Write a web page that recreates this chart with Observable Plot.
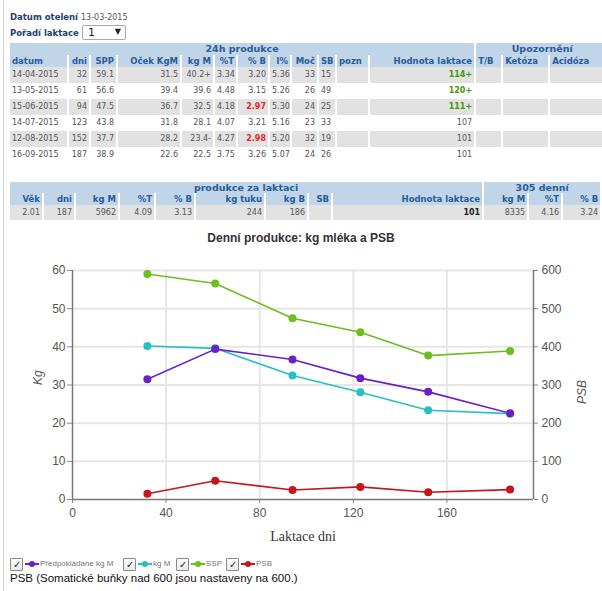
<!DOCTYPE html>
<html><head><meta charset="utf-8">
<script src="https://cdn.jsdelivr.net/npm/d3@7"></script>
<script src="https://cdn.jsdelivr.net/npm/@observablehq/plot@0.6"></script>
<style>
html,body{margin:0;padding:0;width:602px;height:591px;overflow:hidden;background:#fff;position:relative;}
#border{position:absolute;left:3px;top:0;width:1px;height:591px;background:#d4d4d4;}
.lbl{position:absolute;left:10px;font-family:"DejaVu Sans",Verdana,sans-serif;font-weight:bold;font-size:8.5px;color:#1f3d73;white-space:nowrap;}
.lbl span.v{font-weight:normal;color:#555;font-size:8px;}
#sel{position:absolute;left:82px;top:25px;width:44px;height:15px;border:1px solid #a9a9a9;border-radius:2px;background:#fff;box-sizing:border-box;font-family:"DejaVu Sans",sans-serif;font-size:11px;color:#222;}
#sel .n{position:absolute;left:5px;top:0px;}
#sel .a{position:absolute;right:4px;top:1px;font-size:8px;}
table{position:absolute;border-collapse:separate;border-spacing:0;table-layout:fixed;font-family:"DejaVu Sans",Verdana,sans-serif;font-size:8px;color:#555;}
td,th{padding:0 2px;overflow:hidden;white-space:nowrap;border-right:2px solid #fff;box-sizing:border-box;text-align:right;line-height:10px;}
th{background:#c0d5e8;color:#2a5c98;font-weight:bold;font-size:8.5px;}
th.big{font-size:9.5px;text-align:center;}
tr.g td{background:#e2e2e2;}
.red{color:#e8262b;font-weight:bold;}
.grn{color:#3f9a06;font-weight:bold;}
.blk{color:#222;font-weight:bold;}
#title{position:absolute;left:0;width:602px;top:231px;text-align:center;font-family:"Liberation Sans",Arial,sans-serif;font-weight:bold;font-size:12px;color:#333;}
#chart{position:absolute;left:0;top:255px;}
#legend{position:absolute;left:10px;top:558px;height:13px;font-family:"Liberation Sans",Arial,sans-serif;font-size:8px;color:#777;white-space:nowrap;}
.cb{position:absolute;top:0;width:11px;height:11px;border:1px solid #8a8a8a;border-radius:1px;background:linear-gradient(#fff,#e8e8e8);font-size:10px;line-height:11px;text-align:center;color:#222;}
.sym{position:absolute;top:5px;width:14px;height:1.5px;}
.sym i{position:absolute;left:4px;top:-2.5px;width:6px;height:6px;border-radius:50%;}
.lt{position:absolute;top:1px;}
#caption{position:absolute;left:10px;top:572px;font-family:"Liberation Sans",Arial,sans-serif;font-size:11.5px;color:#111;white-space:nowrap;}
</style></head>
<body>
<div id="border"></div>
<div class="lbl" style="top:12px">Datum otelení <span class="v">13-03-2015</span></div>
<div class="lbl" style="top:28px">Pořadí laktace</div>
<div id="sel"><span class="n">1</span><span class="a">▼</span></div>
<table id="t1" style="left:10px;top:43px;"></table>
<table id="t2" style="left:10px;top:182px;"></table>
<div id="title">Denní produkce: kg mléka a PSB</div>
<div id="chart"></div>
<div id="legend"></div>
<div id="caption">PSB (Somatické buňky nad 600 jsou nastaveny na 600.)</div>
<script>
// ---- Table 1: 24h produkce ----
const dates = ["14-04-2015","13-05-2015","15-06-2015","14-07-2015","12-08-2015","16-09-2015"];
const days = [32, 61, 94, 123, 152, 187];
const ssp = [59.1, 56.6, 47.5, 43.8, 37.7, 38.9];
const predicted = [31.5, 39.4, 36.7, 31.8, 28.2, 22.6];
const kgM = [40.2, 39.6, 32.5, 28.1, 23.4, 22.5];
const kgMMark = ["+", "", "", "", "-", ""];
const fatPct = ["3.34", "4.48", "4.18", "4.07", "4.27", "3.75"];
const proteinPct = ["3.20", "3.15", "2.97", "3.21", "2.98", "3.26"];
const proteinLow = [false, false, true, false, true, false];
const lactosePct = ["5.36", "5.26", "5.30", "5.16", "5.20", "5.07"];
const urea = [33, 26, 24, 23, 32, 24];
const sb = [15, 49, 25, 33, 19, 26];
const lactValue = ["114+", "120+", "111+", "107", "101", "101"];
const t1Headers = ["datum","dni","SPP","Oček KgM","kg M","%T","% B","l%","Moč","SB","pozn","Hodnota laktace","T/B","Ketóza","Acidóza"];
const t1Widths = [59,22,27,64,33,23,32,22,27,18,33,106,27,47,60];

// ---- Table 2: produkce za laktaci / 305 denní ----
const t2Headers = ["Věk","dni","kg M","%T","% B","kg tuku","kg B","SB","Hodnota laktace","kg M","%T","% B"];
const t2Values = ["2.01","187","5962","4.09","3.13","244","186","","101","8335","4.16","3.24"];
const t2Widths = [34,32,44,36,40,70,43,24,151,45,34,39];

// ---- chart series ----
const psb = sb;
const seriesNames = ["PSB", "SSP", "kg M", "Předpokládané kg M"];
const seriesColors = ["#c4161c", "#6cbf1e", "#26c0c4", "#6a1fc8"];
const legendOrder = ["Předpokládané kg M", "kg M", "SSP", "PSB"];
const xTicks = [0, 40, 80, 120, 160];
const yTicks = [0, 10, 20, 30, 40, 50, 60];

function buildTable(el, widths, headRow1, headRow2, bodyRows, h1, h2, hb) {
  const cg = "<colgroup>" + widths.map(w => `<col style="width:${w}px">`).join("") + "</colgroup>";
  const tw = widths.reduce((a, b) => a + b, 0);
  el.style.width = tw + "px";
  let html = cg;
  html += `<tr style="height:${h1}px">` + headRow1.map(([t, span]) => `<th class="big" colspan="${span}">${t}</th>`).join("") + "</tr>";
  html += `<tr style="height:${h2}px">` + headRow2.map((t, i) => `<th style="text-align:${t.align || "right"}">${t.text}</th>`).join("") + "</tr>";
  bodyRows.forEach((r, i) => {
    html += `<tr class="${i % 2 === 0 ? "g" : ""}" style="height:${hb}px">` + r.map(c => `<td style="text-align:${c.align || "right"}" class="${c.cls || ""}">${c.text}</td>`).join("") + "</tr>";
  });
  el.innerHTML = html;
}

const leftAligned = new Set(["datum","T/B","Ketóza","Acidóza","pozn"]);
buildTable(document.getElementById("t1"), t1Widths,
  [["24h produkce", 12], ["Upozornění", 3]],
  t1Headers.map(h => ({text: h, align: leftAligned.has(h) ? "left" : "right"})),
  dates.map((d, i) => [
    {text: d, align: "left"}, {text: days[i]}, {text: ssp[i].toFixed(1)}, {text: predicted[i].toFixed(1)},
    {text: kgM[i].toFixed(1) + kgMMark[i]}, {text: fatPct[i]},
    {text: proteinPct[i], cls: proteinLow[i] ? "red" : ""}, {text: lactosePct[i]},
    {text: urea[i]}, {text: sb[i], align: "left"}, {text: ""},
    {text: lactValue[i], cls: lactValue[i].endsWith("+") ? "grn" : ""},
    {text: ""}, {text: ""}, {text: ""}
  ]), 12, 12, 16);

buildTable(document.getElementById("t2"), t2Widths,
  [["produkce za laktaci", 9], ["305 denní", 3]],
  t2Headers.map(h => ({text: h})),
  [t2Values.map((v, i) => ({text: v, cls: i === 8 ? "blk" : ""}))], 11, 12, 15);

// ---- chart ----
const rows = [];
const valuesByName = {"PSB": psb, "SSP": ssp, "kg M": kgM, "Předpokládané kg M": predicted};
for (const name of seriesNames) {
  valuesByName[name].forEach((v, i) => rows.push({series: name, day: days[i], raw: v, right: name === "PSB"}));
}

const chart = Plot.plot({
  width: 602, height: 295,
  marginTop: 15, marginBottom: 51, marginLeft: 72, marginRight: 69,
  x: {domain: [0, 197]},
  y: {domain: [0, 60]},
  color: {domain: seriesNames, range: seriesColors},
  style: {fontFamily: "'Liberation Sans', Arial, sans-serif", fontSize: "12px", color: "#555", background: "transparent"},
  marks: [
    Plot.gridY(yTicks.filter(t => t > 0), {stroke: "#e6e6e6", strokeOpacity: 1, strokeWidth: 2}),
    Plot.gridX(xTicks.filter(t => t > 0), {stroke: "#e6e6e6", strokeOpacity: 1, strokeWidth: 2}),
    Plot.axisY(yTicks, {tickSize: 5, tickPadding: 2, label: null, stroke: "#888"}),
    Plot.axisY(yTicks, {anchor: "right", tickSize: 4, tickPadding: 4, label: null, stroke: "#888", tickFormat: d => d * 10}),
    Plot.axisX(xTicks, {tickSize: 4, tickPadding: 5, label: null, stroke: "#888"}),
    Plot.ruleX([0, 197], {stroke: "#777", strokeWidth: 1.5}),
    Plot.ruleY([0], {stroke: "#777", strokeWidth: 1.5}),
    Plot.line(rows, {x: "day", y: d => d.right ? d.raw / 10 : d.raw, z: "series", stroke: "series", strokeWidth: 1.6}),
    Plot.dot(rows, {x: "day", y: d => d.right ? d.raw / 10 : d.raw, fill: "series", r: 4}),
    Plot.text(["Kg"], {frameAnchor: "left", dx: -34, rotate: -90, fontStyle: "italic", fontSize: 12, fill: "#555"}),
    Plot.text(["PSB"], {frameAnchor: "right", dx: 49, dy: -5, rotate: -90, fontStyle: "italic", fontSize: 12, fill: "#555"}),
    Plot.text(["Laktace dni"], {frameAnchor: "bottom", dy: 41, fontFamily: "'Liberation Serif', 'Times New Roman', serif", fontSize: 14, fill: "#333"})
  ]
});
document.getElementById("chart").appendChild(chart);

// ---- legend ----
const legendPos = {"Předpokládané kg M": 0, "kg M": 113, "SSP": 166, "PSB": 216};
const lg = document.getElementById("legend");
for (const name of legendOrder) {
  const x = legendPos[name];
  const col = seriesColors[seriesNames.indexOf(name)];
  lg.insertAdjacentHTML("beforeend",
    `<span class="cb" style="left:${x}px">✓</span>` +
    `<span class="sym" style="left:${x + 15}px;background:${col}"><i style="background:${col}"></i></span>` +
    `<span class="lt" style="left:${x + 30}px">${name}</span>`);
}
</script>
</body></html>
